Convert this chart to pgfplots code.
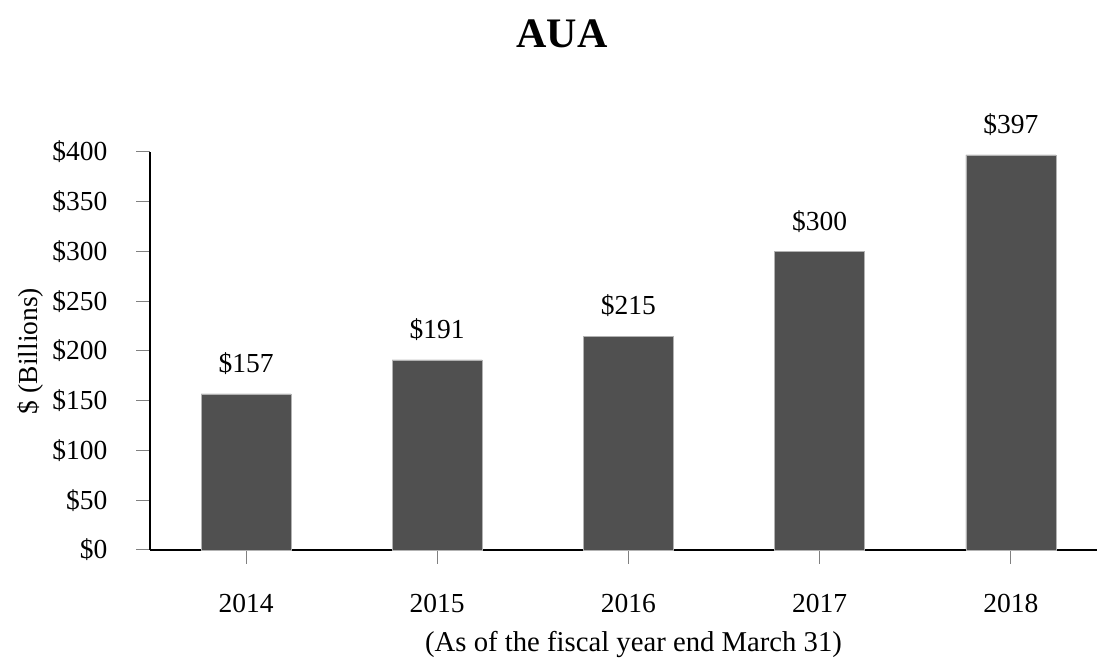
\documentclass[border=0pt]{standalone}
\usepackage{pgfplots}
\pgfplotsset{compat=1.18}
\usepackage{fontspec}
\setmainfont{Liberation Serif}
\definecolor{barcol}{HTML}{505050}
\begin{document}
\begin{tikzpicture}
\begin{axis}[
  scale only axis,
  width=947pt, height=398pt,
  xmin=-0.502, xmax=4.45,
  ymin=0, ymax=400,
  axis x line=bottom, axis y line=left,
  axis line style={-, line width=2pt, black},
  ytick={0,50,...,400},
  yticklabels={\$0,\$50,\$100,\$150,\$200,\$250,\$300,\$350,\$400},
  xtick={0,1,2,3,4},
  xticklabels={2014,2015,2016,2017,2018},
  tick align=outside,
  major tick length=14pt,
  tick style={gray, line width=1pt},
  /pgf/number format/assume math mode=true,
  ticklabel style={font=\fontsize{27.5}{31}\selectfont},
  xticklabel style={yshift=-27pt},
  yticklabel style={xshift=-25pt},
  ylabel={\$ (Billions)},
  ylabel style={font=\fontsize{27.5}{31}\selectfont, at={(axis description cs:-0.1267,0.5)}, anchor=center, rotate=0},
  xlabel={(As of the fiscal year end March 31)},
  xlabel style={font=\fontsize{28.7}{32}\selectfont, at={(axis description cs:0.5106,-0.2375)}, anchor=center},
  clip=false,
]
\addplot[ybar, bar width=90pt, fill=barcol, draw=gray!60, line width=0.5pt,
  nodes near coords={\$\pgfmathprintnumber{\pgfplotspointmeta}},
  nodes near coords style={font=\fontsize{27.5}{31}\selectfont, anchor=south, yshift=15.5pt}]
  coordinates {(0,157) (1,191) (2,215) (3,300) (4,397)};
\node[font=\fontsize{42}{46}\selectfont\bfseries, anchor=center] at (rel axis cs:0.435,1.2965) {AUA};
\coordinate (tl) at (rel axis cs:-0.1584,1.3819);
\coordinate (br) at (rel axis cs:1,-0.2764);
\end{axis}
\pgfresetboundingbox
\path[use as bounding box] (tl) rectangle (br);
\end{tikzpicture}
\end{document}
